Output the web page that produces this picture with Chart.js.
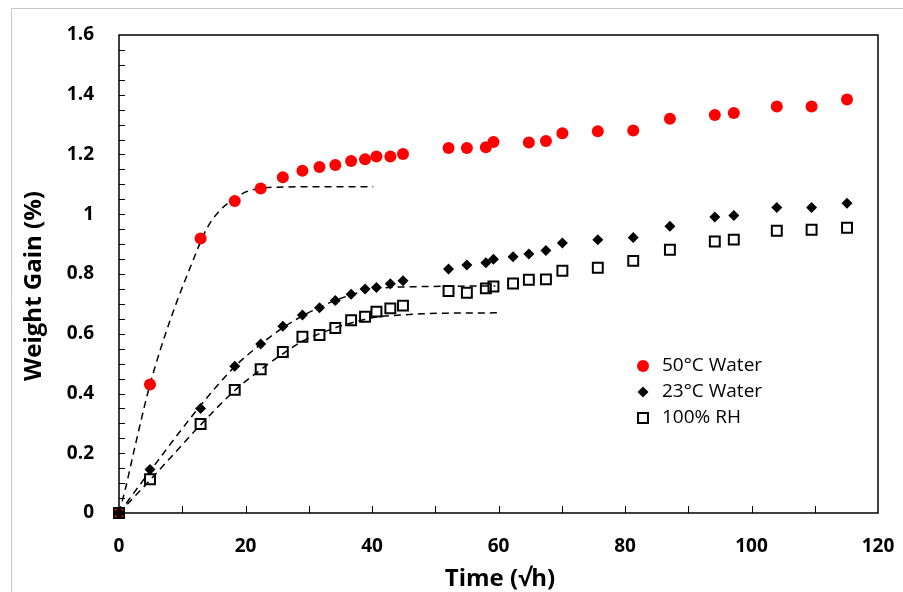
<!DOCTYPE html>
<html>
<head>
<meta charset="utf-8">
<script src="https://cdn.jsdelivr.net/npm/chart.js@4/dist/chart.umd.min.js"></script>
<style>
  html, body { margin: 0; padding: 0; background: #fff; }
  #wrap { width: 903px; height: 592px; position: relative; }
</style>
</head>
<body>
<div id="wrap"><canvas id="gainChart"></canvas></div>
<script>
// Thời gian (căn bậc hai giờ) và độ tăng khối lượng (%)
const water50Time = [0, 4.9, 12.9, 18.3, 22.4, 25.9, 29.0, 31.7, 34.2, 36.7, 38.9, 40.7, 42.9, 44.9, 52.1, 55.0, 58.0, 59.2, 64.8, 67.5, 70.1, 75.7, 81.3, 87.1, 94.2, 97.2, 104.0, 109.5, 115.1];
const water50Gain = [0, 0.43, 0.919, 1.044, 1.086, 1.124, 1.146, 1.158, 1.165, 1.178, 1.184, 1.193, 1.193, 1.202, 1.222, 1.222, 1.224, 1.242, 1.240, 1.245, 1.271, 1.278, 1.280, 1.320, 1.332, 1.339, 1.361, 1.361, 1.384];

const sampleTime = [0, 4.9, 12.9, 18.3, 22.4, 25.9, 29.0, 31.7, 34.2, 36.7, 38.9, 40.7, 42.9, 44.9, 52.1, 55.0, 58.0, 59.2, 62.3, 64.8, 67.5, 70.1, 75.7, 81.3, 87.1, 94.2, 97.2, 104.0, 109.5, 115.1];
const water23Gain = [0, 0.146, 0.350, 0.491, 0.566, 0.625, 0.663, 0.687, 0.711, 0.732, 0.750, 0.755, 0.767, 0.777, 0.817, 0.830, 0.838, 0.849, 0.858, 0.867, 0.879, 0.904, 0.915, 0.922, 0.960, 0.991, 0.996, 1.023, 1.023, 1.037];
const rh100Gain = [0, 0.113, 0.298, 0.412, 0.481, 0.539, 0.590, 0.596, 0.619, 0.645, 0.657, 0.674, 0.685, 0.694, 0.743, 0.737, 0.752, 0.758, 0.768, 0.781, 0.782, 0.811, 0.821, 0.844, 0.881, 0.909, 0.915, 0.945, 0.948, 0.955];

// Đường khớp (nét đứt)
const fit50Time = [0, 1, 2.5, 4.9, 8, 11.3, 13.9, 16, 18.3, 20.2, 22.4, 26, 30, 40.2];
const fit50Gain = [0, 0.08, 0.22, 0.43, 0.64, 0.824, 0.953, 1.014, 1.053, 1.076, 1.087, 1.091, 1.092, 1.092];
const fit23Time = [0, 4.9, 12.9, 18.3, 22.4, 25.9, 29, 31.7, 34.2, 36.7, 39, 42, 46, 52, 59.5];
const fit23Gain = [0, 0.14, 0.36, 0.49, 0.565, 0.62, 0.66, 0.688, 0.712, 0.73, 0.745, 0.754, 0.757, 0.759, 0.76];
const fitRHTime = [0, 4.9, 12.9, 18.3, 22.4, 25.9, 29, 31.7, 34.2, 36.7, 40.7, 44, 48, 52, 60];
const fitRHGain = [0, 0.11, 0.295, 0.41, 0.48, 0.533, 0.575, 0.6, 0.62, 0.636, 0.656, 0.662, 0.667, 0.669, 0.67];

const seriesLabels = ['50°C Water', '23°C Water', '100% RH'];
const xTitle = 'Time (√h)';
const yTitle = 'Weight Gain (%)';

const toPoints = (xs, ys) => xs.map((x, i) => ({ x: x, y: ys[i] }));

const FONT = "'Open Sans', 'Liberation Sans', sans-serif";

const fitStyle = {
    showLine: true,
    pointRadius: 0,
    borderColor: '#000',
    borderWidth: 1.5,
    borderDash: [7, 5],
    fill: false,
    tension: 0.4,
    cubicInterpolationMode: 'monotone',
    order: 3
};

function drawMarker(ctx, style, r, x, y) {
    if (style === 'circle') {
        ctx.arc(x, y, r, 0, Math.PI * 2);
    } else if (style === 'rectRot') {
        ctx.moveTo(x, y - r); ctx.lineTo(x + r, y); ctx.lineTo(x, y + r); ctx.lineTo(x - r, y); ctx.closePath();
    } else {
        const s = r * Math.SQRT1_2;
        ctx.rect(x - s, y - s, 2 * s, 2 * s);
    }
}

// Plugin: nền, khung, vạch chia bên trong, tiêu đề trục và chú thích
const framePlugin = {
    id: 'frame',
    beforeDraw(chart) {
        const ctx = chart.ctx;
        ctx.save();
        ctx.fillStyle = '#fff';
        ctx.fillRect(0, 0, chart.width, chart.height);
        ctx.strokeStyle = '#c8c8c8';
        ctx.lineWidth = 1;
        ctx.beginPath();
        ctx.moveTo(11.5, chart.height);
        ctx.lineTo(11.5, 8.5);
        ctx.lineTo(chart.width, 8.5);
        ctx.stroke();
        ctx.restore();
    },
    beforeDatasetsDraw(chart) {
        // Khung và vạch chia vẽ trước để điểm gốc nằm đè lên
        const ctx = chart.ctx;
        const a = chart.chartArea;
        const xs = chart.scales.x, ys = chart.scales.y;
        ctx.save();
        ctx.strokeStyle = '#000';
        ctx.lineWidth = 1.5;
        ctx.strokeRect(a.left, a.top, a.right - a.left, a.bottom - a.top);
        ctx.lineWidth = 1;
        ctx.beginPath();
        for (let v = 0.05; v < 1.6; v += 0.05) {
            const py = Math.round(ys.getPixelForValue(v)) + 0.5;
            ctx.moveTo(a.left, py);
            ctx.lineTo(a.left + 6, py);
        }
        for (let v = 10; v < 120; v += 10) {
            const px = Math.round(xs.getPixelForValue(v)) + 0.5;
            ctx.moveTo(px, a.bottom);
            ctx.lineTo(px, a.bottom - 7);
        }
        ctx.stroke();
        ctx.restore();
    },
    afterDatasetsDraw(chart) {
        const ctx = chart.ctx;
        ctx.save();
        // Tiêu đề trục
        ctx.fillStyle = '#000';
        ctx.font = "bold 24px " + FONT;
        ctx.textAlign = 'center';
        ctx.textBaseline = 'middle';
        ctx.fillText(xTitle, 500, 579);
        ctx.translate(34, 286);
        ctx.rotate(-Math.PI / 2);
        ctx.fillText(yTitle, 0, 0);
        ctx.restore();

        // Chú thích
        ctx.save();
        const rows = [366, 392, 418];
        chart.data.datasets.slice(0, 3).forEach((ds, i) => {
            ctx.fillStyle = ds.backgroundColor;
            ctx.strokeStyle = ds.borderColor;
            ctx.lineWidth = ds.borderWidth;
            ctx.beginPath();
            drawMarker(ctx, ds.pointStyle, ds.pointRadius, 643, rows[i]);
            ctx.fill();
            if (ds.borderWidth) ctx.stroke();
            ctx.fillStyle = '#000';
            ctx.font = "19px " + FONT;
            ctx.textAlign = 'left';
            ctx.textBaseline = 'middle';
            ctx.fillText(ds.label, 662, rows[i]);
        });
        ctx.restore();
    }
};

new Chart(document.getElementById('gainChart'), {
    type: 'scatter',
    data: {
        datasets: [
            {
                label: seriesLabels[0],
                data: toPoints(water50Time, water50Gain),
                pointStyle: 'circle',
                pointRadius: 6,
                backgroundColor: '#ff0000',
                borderColor: '#ff0000',
                borderWidth: 0,
                clip: false,
                order: 2
            },
            {
                label: seriesLabels[1],
                data: toPoints(sampleTime, water23Gain),
                pointStyle: 'rectRot',
                pointRadius: 5.5,
                backgroundColor: '#000',
                borderColor: '#000',
                borderWidth: 0,
                clip: false,
                order: 1
            },
            {
                label: seriesLabels[2],
                data: toPoints(sampleTime, rh100Gain),
                pointStyle: 'rect',
                pointRadius: 7,
                backgroundColor: 'rgba(255,255,255,0)',
                borderColor: '#000',
                borderWidth: 2,
                clip: false,
                order: 0
            },
            Object.assign({ label: 'fit50', data: toPoints(fit50Time, fit50Gain) }, fitStyle),
            Object.assign({ label: 'fit23', data: toPoints(fit23Time, fit23Gain) }, fitStyle),
            Object.assign({ label: 'fitRH', data: toPoints(fitRHTime, fitRHGain) }, fitStyle)
        ]
    },
    options: {
        responsive: true,
        maintainAspectRatio: false,
        animation: false,
        layout: { padding: { top: 35, right: 25, left: 0, bottom: 0 } },
        plugins: {
            legend: { display: false },
            tooltip: { enabled: false }
        },
        scales: {
            x: {
                type: 'linear',
                min: 0,
                max: 120,
                grid: { display: false, drawTicks: false },
                border: { display: false },
                ticks: {
                    stepSize: 20,
                    padding: 22,
                    color: '#000',
                    font: { family: FONT, size: 19, weight: 'bold' }
                },
                afterFit(scale) {
                    scale.height = 79;
                    scale.paddingLeft = 0;
                    scale.paddingRight = 0;
                }
            },
            y: {
                min: 0,
                max: 1.6,
                grid: { display: false, drawTicks: false },
                border: { display: false },
                ticks: {
                    stepSize: 0.2,
                    padding: 25,
                    color: '#000',
                    font: { family: FONT, size: 19, weight: 'bold' },
                    callback: v => String(Number(v.toFixed(2)))
                },
                afterFit(scale) {
                    scale.width = 119;
                    scale.paddingTop = 0;
                    scale.paddingBottom = 0;
                }
            }
        }
    },
    plugins: [framePlugin]
});
</script>
</body>
</html>
